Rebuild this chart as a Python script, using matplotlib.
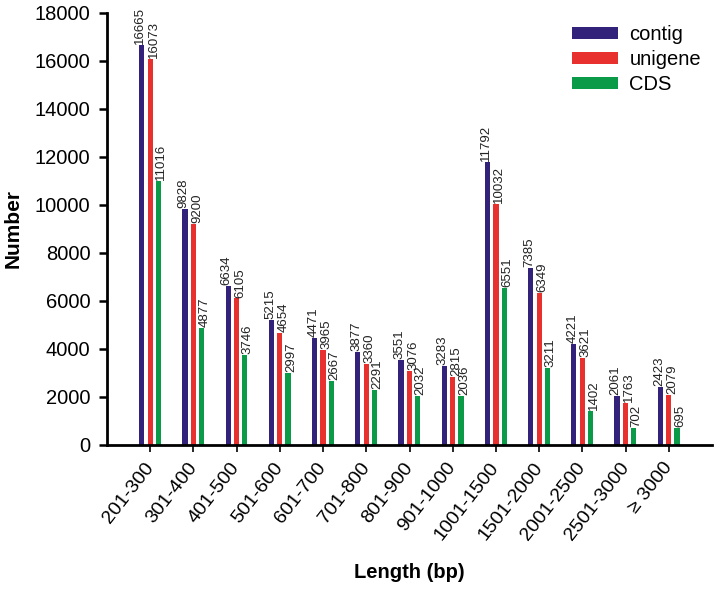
import numpy as np
import matplotlib
matplotlib.use("Agg")
import matplotlib.pyplot as plt

categories = ["201-300", "301-400", "401-500", "501-600", "601-700", "701-800",
              "801-900", "901-1000", "1001-1500", "1501-2000", "2001-2500",
              "2501-3000", "≥ 3000"]
contig = [16665, 9828, 6634, 5215, 4471, 3877, 3551, 3283, 11792, 7385, 4221, 2061, 2423]
unigene = [16073, 9200, 6105, 4654, 3965, 3360, 3076, 2815, 10032, 6349, 3621, 1763, 2079]
cds = [11016, 4877, 3746, 2997, 2667, 2291, 2032, 2036, 6551, 3211, 1402, 702, 695]

series = [("contig", contig, "#33227a"),
          ("unigene", unigene, "#e8302e"),
          ("CDS", cds, "#0a9a48")]

plt.rcParams["font.family"] = ["Liberation Sans", "DejaVu Sans"]

fig = plt.figure(figsize=(7.17, 5.89), dpi=100)
ax = fig.add_axes([107 / 717, 1 - 445 / 589, 605 / 717, 432 / 589])

x = np.arange(len(categories))
offsets = [-0.197, 0.0, 0.19]
label_shift = [-0.03, 0.08, 0.07]
width = 0.12

for (name, vals, color), off, sh in zip(series, offsets, label_shift):
    ax.bar(x + off, vals, width, color=color, label=name)
    for xi, v in zip(x + off, vals):
        ax.text(xi + sh, v + 40, str(v), rotation=90, ha="center", va="bottom",
                fontsize=9.5, color="#222222")

ax.set_xlim(-1, 13)
ax.set_ylim(0, 18000)
ax.set_yticks(np.arange(0, 18001, 2000))
ax.set_xticks(x)
ax.set_xticklabels(categories, rotation=52, ha="right", va="center",
                   rotation_mode="anchor", fontsize=14)
ax.tick_params(axis="y", labelsize=14.5, width=1.8, length=6, pad=6, direction="out")
ax.tick_params(axis="x", width=1.2, length=5, direction="out", pad=9)

for side in ["top", "right"]:
    ax.spines[side].set_visible(False)
for side in ["left", "bottom"]:
    ax.spines[side].set_linewidth(2)

ax.set_ylabel("Number", fontsize=15, fontweight="bold")
ax.yaxis.set_label_coords((13 - 107) / 605, 0.5)
ax.set_xlabel("Length (bp)", fontsize=14.5, fontweight="bold")
ax.xaxis.set_label_coords(0.5, (445 - 573) / 432)
ax.xaxis.label.set_va("center")
ax.yaxis.label.set_va("center")

ax.legend(loc="upper left", bbox_to_anchor=((566 - 107) / 605, 0.986), frameon=False,
          fontsize=14.5, handlelength=2.3, handleheight=0.6, labelspacing=0.3,
          handletextpad=0.55, borderaxespad=0.0, borderpad=0.3)

fig.savefig("out.png", dpi=100)
